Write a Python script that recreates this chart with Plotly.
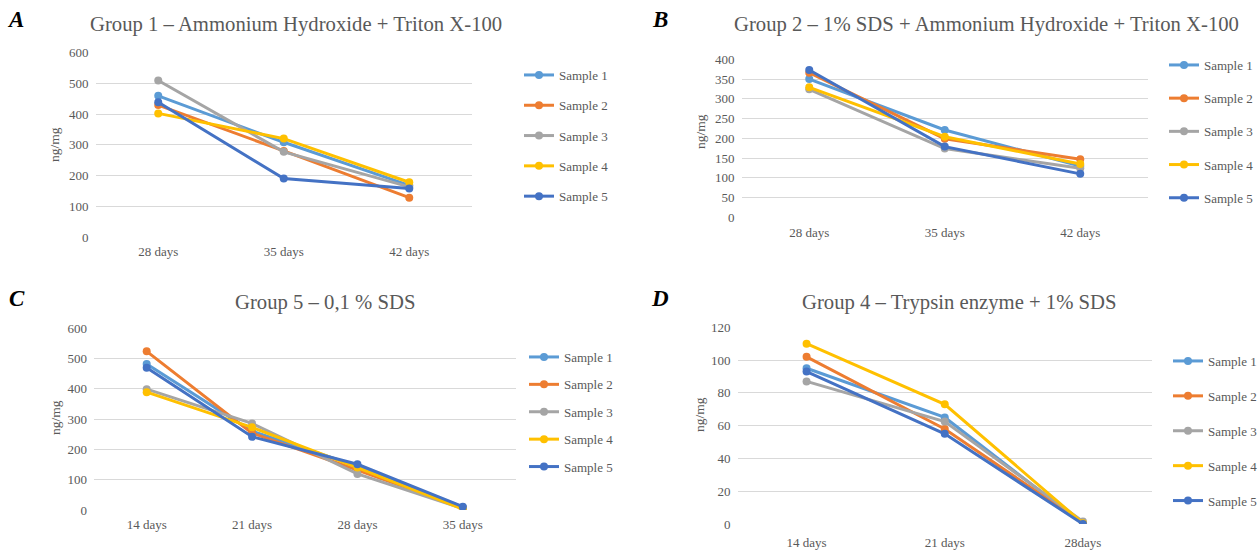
import plotly.graph_objects as go

FONT = "Liberation Serif"
GREY = "#595959"
GRID = "#d9d9d9"
W, H = 1259, 552

samples = ["Sample 1", "Sample 2", "Sample 3", "Sample 4", "Sample 5"]
colors = ["#5B9BD5", "#ED7D31", "#A5A5A5", "#FFC000", "#4472C4"]

# Panel A
a_title = "Group 1 – Ammonium Hydroxide + Triton X-100"
a_days = ["28 days", "35 days", "42 days"]
a_s1 = [459, 308, 168]
a_s2 = [429, 280, 128]
a_s3 = [509, 277, 163]
a_s4 = [402, 320, 178]
a_s5 = [438, 190, 158]

# Panel B
b_title = "Group 2 – 1% SDS + Ammonium Hydroxide + Triton X-100"
b_days = ["28 days", "35 days", "42 days"]
b_s1 = [350, 221, 130]
b_s2 = [366, 199, 147]
b_s3 = [324, 174, 124]
b_s4 = [329, 204, 135]
b_s5 = [373, 179, 110]

# Panel C
c_title = "Group 5 – 0,1 % SDS"
c_days = ["14 days", "21 days", "28 days", "35 days"]
c_s1 = [482, 260, 145, 9]
c_s2 = [524, 254, 132, 7]
c_s3 = [399, 286, 119, 5]
c_s4 = [389, 273, 140, 3]
c_s5 = [470, 242, 151, 11]

# Panel D
d_title = "Group 4 – Trypsin enzyme + 1% SDS"
d_days = ["14 days", "21 days", "28days"]
d_s1 = [95, 65, 0]
d_s2 = [102, 58, 0.5]
d_s3 = [87, 62.5, 1.5]
d_s4 = [110, 73, 0.5]
d_s5 = [93, 55, 0]

panels = [
    dict(key="", letter="A", title=a_title, days=a_days, series=[a_s1, a_s2, a_s3, a_s4, a_s5],
         ymax=600, dtick=100, px=(95.5, 472), py=(52.5, 237), title_xy=(296, 25), xstand=5,
         letter_xy=(15, 19), ylab_xy=(55, 145), leg_xy=(519, 60), leg_gap=10.4),
    dict(key="2", letter="B", title=b_title, days=b_days, series=[b_s1, b_s2, b_s3, b_s4, b_s5],
         ymax=400, dtick=50, px=(741.5, 1148), py=(59.3, 217.3), title_xy=(987, 25), xstand=6,
         letter_xy=(660, 19), ylab_xy=(701, 132), leg_xy=(1164, 50), leg_gap=13.3),
    dict(key="3", letter="C", title=c_title, days=c_days, series=[c_s1, c_s2, c_s3, c_s4, c_s5],
         ymax=600, dtick=100, px=(94, 515.5), py=(328.3, 510), title_xy=(325, 302), xstand=5,
         letter_xy=(17, 298), ylab_xy=(55, 418), leg_xy=(524, 342), leg_gap=7.5),
    dict(key="4", letter="D", title=d_title, days=d_days, series=[d_s1, d_s2, d_s3, d_s4, d_s5],
         ymax=120, dtick=20, px=(737.5, 1152), py=(327.3, 524), title_xy=(959, 302), xstand=9,
         letter_xy=(660, 298), ylab_xy=(699, 415), leg_xy=(1168, 346), leg_gap=15),
]


def fx(px):
    return px / W


def fy(py):
    return 1 - py / H


fig = go.Figure()
annotations = []
layout = {}

for p in panels:
    k = p["key"]
    xa = "x" + k
    ya = "y" + k
    legname = "legend" + k
    for i, (name, vals) in enumerate(zip(samples, p["series"])):
        fig.add_trace(go.Scatter(
            x=p["days"], y=vals, name=name, mode="lines+markers",
            line=dict(color=colors[i], width=3),
            marker=dict(color=colors[i], size=8),
            xaxis=xa, yaxis=ya, legend=legname, legendgroup=f"{k}_{i}",
        ))
    x0, x1 = p["px"]
    yt, yb = p["py"]
    n = len(p["days"])
    layout["xaxis" + k] = dict(
        domain=[fx(x0), fx(x1)], anchor=ya, type="category", range=[-0.5, n - 0.5],
        showgrid=False, zeroline=False, showline=False, ticks="", automargin=False,
        ticklabelstandoff=p["xstand"],
        tickfont=dict(family=FONT, size=13, color=GREY), fixedrange=True,
    )
    layout["yaxis" + k] = dict(
        domain=[fy(yb), fy(yt)], anchor=xa, range=[0, p["ymax"]], dtick=p["dtick"],
        showgrid=True, gridcolor=GRID, gridwidth=1, zeroline=False, showline=False, ticks="",
        automargin=False, ticklabelstandoff=6,
        tickfont=dict(family=FONT, size=13, color=GREY), fixedrange=True,
    )
    lx, ly = p["leg_xy"]
    layout[legname] = dict(
        x=fx(lx), y=fy(ly), xanchor="left", yanchor="top", xref="paper", yref="paper",
        font=dict(family=FONT, size=13, color=GREY), tracegroupgap=p["leg_gap"],
        bgcolor="rgba(0,0,0,0)", traceorder="grouped",
    )
    tx, ty = p["title_xy"]
    annotations.append(dict(x=fx(tx), y=fy(ty), xref="paper", yref="paper", text=p["title"],
                            showarrow=False, xanchor="center", yanchor="middle",
                            font=dict(family=FONT, size=20.7, color=GREY)))
    ltx, lty = p["letter_xy"]
    annotations.append(dict(x=fx(ltx), y=fy(lty), xref="paper", yref="paper",
                            text="<b><i>" + p["letter"] + "</i></b>",
                            showarrow=False, xanchor="center", yanchor="middle",
                            font=dict(family=FONT, size=23, color="black")))
    yx, yy = p["ylab_xy"]
    annotations.append(dict(x=fx(yx), y=fy(yy), xref="paper", yref="paper", text="ng/mg",
                            showarrow=False, xanchor="center", yanchor="middle", textangle=-90,
                            font=dict(family=FONT, size=13.5, color=GREY)))

fig.update_layout(
    width=W, height=H, margin=dict(l=0, r=0, t=0, b=0, autoexpand=False),
    paper_bgcolor="white", plot_bgcolor="white",
    showlegend=True, annotations=annotations,
    font=dict(family=FONT, color=GREY),
    **layout,
)

fig.write_html(
    "out.html",
    config={"displayModeBar": False},
    post_script="document.body.style.margin='0';document.body.style.overflow='hidden';",
)
